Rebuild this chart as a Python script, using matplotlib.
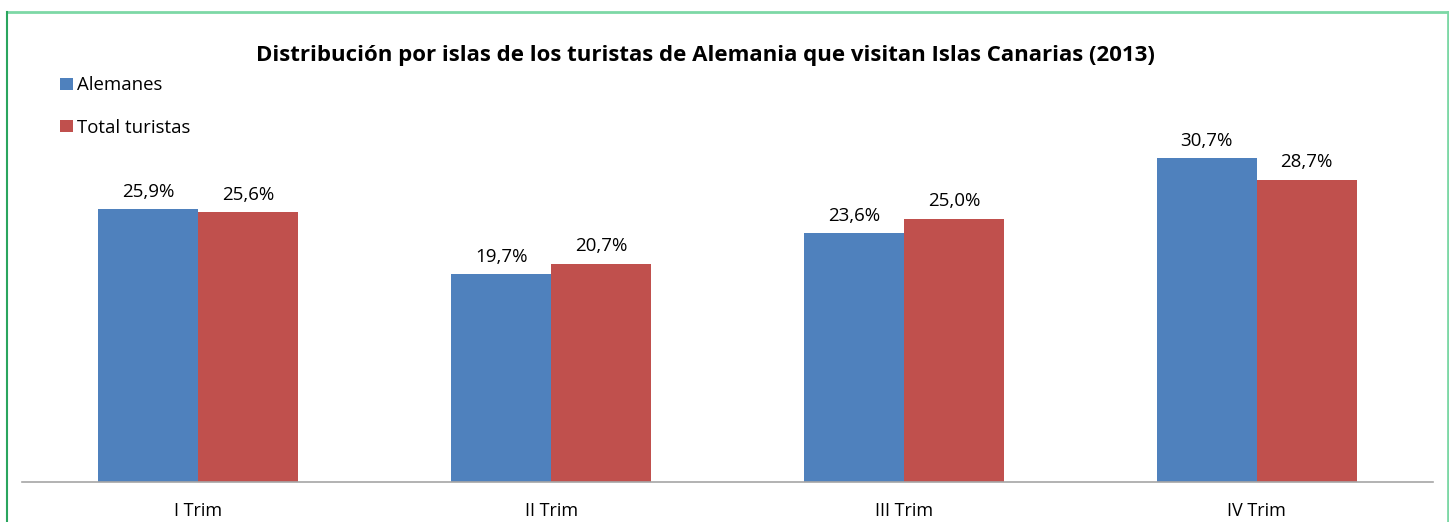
import matplotlib
matplotlib.use("Agg")
import matplotlib.pyplot as plt
from matplotlib.lines import Line2D
import numpy as np

categories = ["I Trim", "II Trim", "III Trim", "IV Trim"]
alemanes = [25.9, 19.7, 23.6, 30.7]
total_turistas = [25.6, 20.7, 25.0, 28.7]
series_names = ["Alemanes", "Total turistas"]
title = "Distribución por islas de los turistas de Alemania que visitan Islas Canarias (2013)"

W, H = 1449, 522
plt.rcParams['font.family'] = ['Open Sans', 'DejaVu Sans']
fig = plt.figure(figsize=(W / 100, H / 100), dpi=100)
fig.patch.set_facecolor("white")

# axes placement in pixels
ax_left, ax_right, ax_bottom_px = 22, 1433, 482
ymax = 35.0
px_per_unit = 10.54
ax_top_px = ax_bottom_px - ymax * px_per_unit
ax = fig.add_axes([ax_left / W, 1 - ax_bottom_px / H,
                   (ax_right - ax_left) / W, (ax_bottom_px - ax_top_px) / H])

x = np.arange(len(categories))
bw = 100 / 352.75
blue, red = "#4f81bd", "#c0504d"
b1 = ax.bar(x - bw / 2, alemanes, bw, color=blue, label=series_names[0])
b2 = ax.bar(x + bw / 2, total_turistas, bw, color=red, label=series_names[1])

fmt = lambda vals: [f"{v:.1f}%".replace(".", ",") for v in vals]
ax.bar_label(b1, labels=fmt(alemanes), padding=6, fontsize=13.5)
ax.bar_label(b2, labels=fmt(total_turistas), padding=6, fontsize=13.5)

ax.set_xlim(-0.5, len(categories) - 0.5)
ax.set_ylim(0, ymax)
ax.set_xticks(x)
ax.set_xticklabels(categories, fontsize=13)
ax.tick_params(axis="x", length=0, pad=14.5)
ax.set_yticks([])
for s in ["top", "right", "left"]:
    ax.spines[s].set_visible(False)
ax.spines["bottom"].set_color("#a6a6a6")
ax.spines["bottom"].set_linewidth(1.2)
ax.set_facecolor("none")

fig.text(705 / W, 1 - 55 / H, title, ha="center", va="center",
         fontsize=16, fontweight="bold")

fig.legend(handles=[b1, b2], labels=series_names, loc="upper left",
           bbox_to_anchor=(53 / W, 1 - 69 / H), frameon=False,
           handlelength=0.65, handleheight=0.65, labelspacing=1.3,
           handletextpad=0.25, fontsize=13.4, borderaxespad=0)

# outer border
lt = "#7dd8a6"
fig.add_artist(Line2D([7 / W, 1447.5 / W], [1 - 12 / H, 1 - 12 / H],
                      transform=fig.transFigure, color=lt, lw=2))
fig.add_artist(Line2D([1447.5 / W, 1447.5 / W], [0, 1 - 12 / H],
                      transform=fig.transFigure, color=lt, lw=2))
fig.add_artist(Line2D([7 / W, 7 / W], [0, 1 - 12 / H],
                      transform=fig.transFigure, color="#2aa55e", lw=1.5))

fig.savefig("out.png", dpi=100, facecolor="white")
